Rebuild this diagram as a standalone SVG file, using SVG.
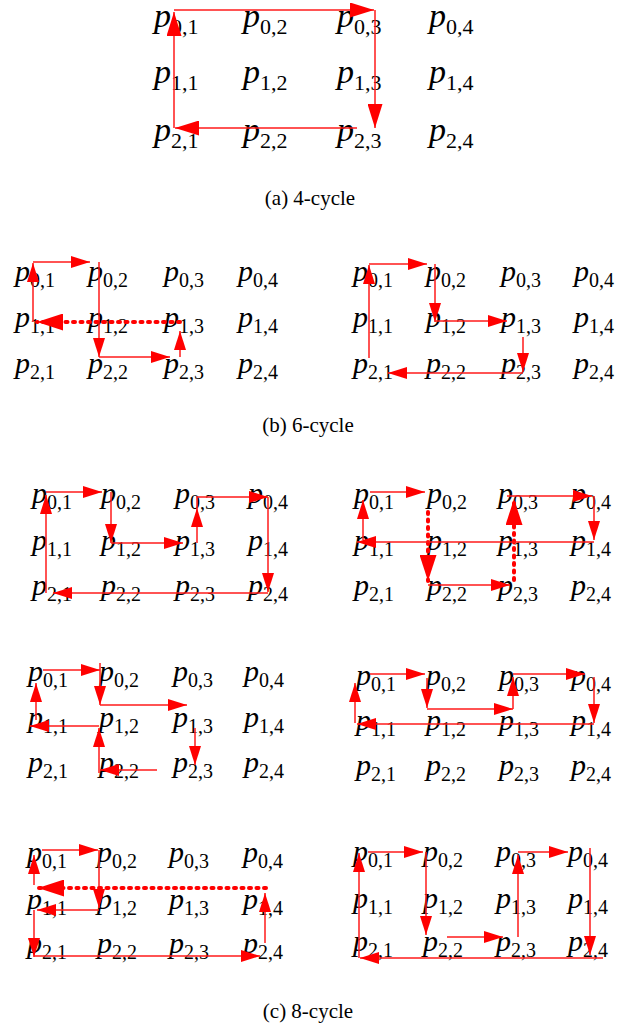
<svg xmlns="http://www.w3.org/2000/svg" width="630" height="1027" viewBox="0 0 630 1027">
<style>
.p{font-family:"Liberation Serif","Times New Roman",serif;font-style:italic;fill:#000}
.pa{font-size:34px}
.pb{font-size:30px}
.s{font-style:normal;font-size:20px}
.sa{font-style:normal;font-size:22px}
.c{stroke:#ff1a1a;stroke-width:1.5;fill:none}
.d{stroke:#ff0000;stroke-width:4;stroke-dasharray:2 5.5;stroke-linecap:round;fill:none}
.cap{font-family:"Liberation Serif","Times New Roman",serif;font-size:21px;fill:#000}
</style>
<defs>
<marker id="mA" markerUnits="userSpaceOnUse" markerWidth="24" markerHeight="15" refX="24" refY="7.5" orient="auto"><path d="M0,0 L24,7.5 L0,15 Z" fill="red"/></marker>
<marker id="mB" markerUnits="userSpaceOnUse" markerWidth="19" markerHeight="12" refX="19" refY="6" orient="auto"><path d="M0,0 L19,6 L0,12 Z" fill="red"/></marker>
<marker id="mC" markerUnits="userSpaceOnUse" markerWidth="26" markerHeight="17" refX="26" refY="8.5" orient="auto"><path d="M0,0 L26,8.5 L0,17 Z" fill="red"/></marker>
</defs>
<rect width="630" height="1027" fill="#fff"/>

<g id="panel-a">
<g id="a-p01"><text class="p pa" x="154" y="27">p<tspan class="sa" dy="7">0,1</tspan></text></g>
<g id="a-p02"><text class="p pa" x="243" y="27">p<tspan class="sa" dy="7">0,2</tspan></text></g>
<g id="a-p03"><text class="p pa" x="337" y="27">p<tspan class="sa" dy="7">0,3</tspan></text></g>
<g id="a-p04"><text class="p pa" x="429" y="27">p<tspan class="sa" dy="7">0,4</tspan></text></g>
<g id="a-p11"><text class="p pa" x="154" y="83">p<tspan class="sa" dy="7">1,1</tspan></text></g>
<g id="a-p12"><text class="p pa" x="243" y="83">p<tspan class="sa" dy="7">1,2</tspan></text></g>
<g id="a-p13"><text class="p pa" x="337" y="83">p<tspan class="sa" dy="7">1,3</tspan></text></g>
<g id="a-p14"><text class="p pa" x="429" y="83">p<tspan class="sa" dy="7">1,4</tspan></text></g>
<g id="a-p21"><text class="p pa" x="154" y="141">p<tspan class="sa" dy="7">2,1</tspan></text></g>
<g id="a-p22"><text class="p pa" x="243" y="141">p<tspan class="sa" dy="7">2,2</tspan></text></g>
<g id="a-p23"><text class="p pa" x="337" y="141">p<tspan class="sa" dy="7">2,3</tspan></text></g>
<g id="a-p24"><text class="p pa" x="429" y="141">p<tspan class="sa" dy="7">2,4</tspan></text></g>
<text class="cap" x="310" y="205" text-anchor="middle">(a) 4-cycle</text>
</g>

<g id="panel-b-left">
<g id="bl-p01"><text class="p pb" x="15" y="281">p<tspan class="s" dy="6">0,1</tspan></text></g>
<g id="bl-p02"><text class="p pb" x="88" y="281">p<tspan class="s" dy="6">0,2</tspan></text></g>
<g id="bl-p03"><text class="p pb" x="164" y="281">p<tspan class="s" dy="6">0,3</tspan></text></g>
<g id="bl-p04"><text class="p pb" x="238" y="281">p<tspan class="s" dy="6">0,4</tspan></text></g>
<g id="bl-p11"><text class="p pb" x="15" y="327">p<tspan class="s" dy="6">1,1</tspan></text></g>
<g id="bl-p12"><text class="p pb" x="88" y="327">p<tspan class="s" dy="6">1,2</tspan></text></g>
<g id="bl-p13"><text class="p pb" x="164" y="327">p<tspan class="s" dy="6">1,3</tspan></text></g>
<g id="bl-p14"><text class="p pb" x="238" y="327">p<tspan class="s" dy="6">1,4</tspan></text></g>
<g id="bl-p21"><text class="p pb" x="15" y="373">p<tspan class="s" dy="6">2,1</tspan></text></g>
<g id="bl-p22"><text class="p pb" x="88" y="373">p<tspan class="s" dy="6">2,2</tspan></text></g>
<g id="bl-p23"><text class="p pb" x="164" y="373">p<tspan class="s" dy="6">2,3</tspan></text></g>
<g id="bl-p24"><text class="p pb" x="238" y="373">p<tspan class="s" dy="6">2,4</tspan></text></g>
</g>

<g id="panel-b-right">
<g id="br-p01"><text class="p pb" x="353" y="281">p<tspan class="s" dy="6">0,1</tspan></text></g>
<g id="br-p02"><text class="p pb" x="426" y="281">p<tspan class="s" dy="6">0,2</tspan></text></g>
<g id="br-p03"><text class="p pb" x="501" y="281">p<tspan class="s" dy="6">0,3</tspan></text></g>
<g id="br-p04"><text class="p pb" x="574" y="281">p<tspan class="s" dy="6">0,4</tspan></text></g>
<g id="br-p11"><text class="p pb" x="353" y="327">p<tspan class="s" dy="6">1,1</tspan></text></g>
<g id="br-p12"><text class="p pb" x="426" y="327">p<tspan class="s" dy="6">1,2</tspan></text></g>
<g id="br-p13"><text class="p pb" x="501" y="327">p<tspan class="s" dy="6">1,3</tspan></text></g>
<g id="br-p14"><text class="p pb" x="574" y="327">p<tspan class="s" dy="6">1,4</tspan></text></g>
<g id="br-p21"><text class="p pb" x="353" y="373">p<tspan class="s" dy="6">2,1</tspan></text></g>
<g id="br-p22"><text class="p pb" x="426" y="373">p<tspan class="s" dy="6">2,2</tspan></text></g>
<g id="br-p23"><text class="p pb" x="501" y="373">p<tspan class="s" dy="6">2,3</tspan></text></g>
<g id="br-p24"><text class="p pb" x="574" y="373">p<tspan class="s" dy="6">2,4</tspan></text></g>
<text class="cap" x="308" y="432" text-anchor="middle">(b) 6-cycle</text>
</g>

<g id="panel-c1-left">
<g id="c1l-p01"><text class="p pb" x="32" y="503">p<tspan class="s" dy="6">0,1</tspan></text></g>
<g id="c1l-p02"><text class="p pb" x="101" y="503">p<tspan class="s" dy="6">0,2</tspan></text></g>
<g id="c1l-p03"><text class="p pb" x="175" y="503">p<tspan class="s" dy="6">0,3</tspan></text></g>
<g id="c1l-p04"><text class="p pb" x="248" y="503">p<tspan class="s" dy="6">0,4</tspan></text></g>
<g id="c1l-p11"><text class="p pb" x="32" y="550">p<tspan class="s" dy="6">1,1</tspan></text></g>
<g id="c1l-p12"><text class="p pb" x="101" y="550">p<tspan class="s" dy="6">1,2</tspan></text></g>
<g id="c1l-p13"><text class="p pb" x="175" y="550">p<tspan class="s" dy="6">1,3</tspan></text></g>
<g id="c1l-p14"><text class="p pb" x="248" y="550">p<tspan class="s" dy="6">1,4</tspan></text></g>
<g id="c1l-p21"><text class="p pb" x="32" y="595">p<tspan class="s" dy="6">2,1</tspan></text></g>
<g id="c1l-p22"><text class="p pb" x="101" y="595">p<tspan class="s" dy="6">2,2</tspan></text></g>
<g id="c1l-p23"><text class="p pb" x="175" y="595">p<tspan class="s" dy="6">2,3</tspan></text></g>
<g id="c1l-p24"><text class="p pb" x="248" y="595">p<tspan class="s" dy="6">2,4</tspan></text></g>
</g>

<g id="panel-c1-right">
<g id="c1r-p01"><text class="p pb" x="354" y="503">p<tspan class="s" dy="6">0,1</tspan></text></g>
<g id="c1r-p02"><text class="p pb" x="427" y="503">p<tspan class="s" dy="6">0,2</tspan></text></g>
<g id="c1r-p03"><text class="p pb" x="498" y="503">p<tspan class="s" dy="6">0,3</tspan></text></g>
<g id="c1r-p04"><text class="p pb" x="571" y="503">p<tspan class="s" dy="6">0,4</tspan></text></g>
<g id="c1r-p11"><text class="p pb" x="354" y="550">p<tspan class="s" dy="6">1,1</tspan></text></g>
<g id="c1r-p12"><text class="p pb" x="427" y="550">p<tspan class="s" dy="6">1,2</tspan></text></g>
<g id="c1r-p13"><text class="p pb" x="498" y="550">p<tspan class="s" dy="6">1,3</tspan></text></g>
<g id="c1r-p14"><text class="p pb" x="571" y="550">p<tspan class="s" dy="6">1,4</tspan></text></g>
<g id="c1r-p21"><text class="p pb" x="354" y="595">p<tspan class="s" dy="6">2,1</tspan></text></g>
<g id="c1r-p22"><text class="p pb" x="427" y="595">p<tspan class="s" dy="6">2,2</tspan></text></g>
<g id="c1r-p23"><text class="p pb" x="498" y="595">p<tspan class="s" dy="6">2,3</tspan></text></g>
<g id="c1r-p24"><text class="p pb" x="571" y="595">p<tspan class="s" dy="6">2,4</tspan></text></g>
</g>

<g id="panel-c2-left">
<g id="c2l-p01"><text class="p pb" x="28" y="681">p<tspan class="s" dy="6">0,1</tspan></text></g>
<g id="c2l-p02"><text class="p pb" x="99" y="681">p<tspan class="s" dy="6">0,2</tspan></text></g>
<g id="c2l-p03"><text class="p pb" x="173" y="681">p<tspan class="s" dy="6">0,3</tspan></text></g>
<g id="c2l-p04"><text class="p pb" x="244" y="681">p<tspan class="s" dy="6">0,4</tspan></text></g>
<g id="c2l-p11"><text class="p pb" x="28" y="727">p<tspan class="s" dy="6">1,1</tspan></text></g>
<g id="c2l-p12"><text class="p pb" x="99" y="727">p<tspan class="s" dy="6">1,2</tspan></text></g>
<g id="c2l-p13"><text class="p pb" x="173" y="727">p<tspan class="s" dy="6">1,3</tspan></text></g>
<g id="c2l-p14"><text class="p pb" x="244" y="727">p<tspan class="s" dy="6">1,4</tspan></text></g>
<g id="c2l-p21"><text class="p pb" x="28" y="772">p<tspan class="s" dy="6">2,1</tspan></text></g>
<g id="c2l-p22"><text class="p pb" x="99" y="772">p<tspan class="s" dy="6">2,2</tspan></text></g>
<g id="c2l-p23"><text class="p pb" x="173" y="772">p<tspan class="s" dy="6">2,3</tspan></text></g>
<g id="c2l-p24"><text class="p pb" x="244" y="772">p<tspan class="s" dy="6">2,4</tspan></text></g>
</g>

<g id="panel-c2-right">
<g id="c2r-p01"><text class="p pb" x="356" y="685">p<tspan class="s" dy="6">0,1</tspan></text></g>
<g id="c2r-p02"><text class="p pb" x="426" y="685">p<tspan class="s" dy="6">0,2</tspan></text></g>
<g id="c2r-p03"><text class="p pb" x="499" y="685">p<tspan class="s" dy="6">0,3</tspan></text></g>
<g id="c2r-p04"><text class="p pb" x="571" y="685">p<tspan class="s" dy="6">0,4</tspan></text></g>
<g id="c2r-p11"><text class="p pb" x="356" y="730">p<tspan class="s" dy="6">1,1</tspan></text></g>
<g id="c2r-p12"><text class="p pb" x="426" y="730">p<tspan class="s" dy="6">1,2</tspan></text></g>
<g id="c2r-p13"><text class="p pb" x="499" y="730">p<tspan class="s" dy="6">1,3</tspan></text></g>
<g id="c2r-p14"><text class="p pb" x="571" y="730">p<tspan class="s" dy="6">1,4</tspan></text></g>
<g id="c2r-p21"><text class="p pb" x="356" y="775">p<tspan class="s" dy="6">2,1</tspan></text></g>
<g id="c2r-p22"><text class="p pb" x="426" y="775">p<tspan class="s" dy="6">2,2</tspan></text></g>
<g id="c2r-p23"><text class="p pb" x="499" y="775">p<tspan class="s" dy="6">2,3</tspan></text></g>
<g id="c2r-p24"><text class="p pb" x="571" y="775">p<tspan class="s" dy="6">2,4</tspan></text></g>
</g>

<g id="panel-c3-left">
<g id="c3l-p01"><text class="p pb" x="27" y="862">p<tspan class="s" dy="6">0,1</tspan></text></g>
<g id="c3l-p02"><text class="p pb" x="97" y="862">p<tspan class="s" dy="6">0,2</tspan></text></g>
<g id="c3l-p03"><text class="p pb" x="169" y="862">p<tspan class="s" dy="6">0,3</tspan></text></g>
<g id="c3l-p04"><text class="p pb" x="243" y="862">p<tspan class="s" dy="6">0,4</tspan></text></g>
<g id="c3l-p11"><text class="p pb" x="27" y="909">p<tspan class="s" dy="6">1,1</tspan></text></g>
<g id="c3l-p12"><text class="p pb" x="97" y="909">p<tspan class="s" dy="6">1,2</tspan></text></g>
<g id="c3l-p13"><text class="p pb" x="169" y="909">p<tspan class="s" dy="6">1,3</tspan></text></g>
<g id="c3l-p14"><text class="p pb" x="243" y="909">p<tspan class="s" dy="6">1,4</tspan></text></g>
<g id="c3l-p21"><text class="p pb" x="27" y="953">p<tspan class="s" dy="6">2,1</tspan></text></g>
<g id="c3l-p22"><text class="p pb" x="97" y="953">p<tspan class="s" dy="6">2,2</tspan></text></g>
<g id="c3l-p23"><text class="p pb" x="169" y="953">p<tspan class="s" dy="6">2,3</tspan></text></g>
<g id="c3l-p24"><text class="p pb" x="243" y="953">p<tspan class="s" dy="6">2,4</tspan></text></g>
</g>

<g id="panel-c3-right">
<g id="c3r-p01"><text class="p pb" x="353" y="861">p<tspan class="s" dy="6">0,1</tspan></text></g>
<g id="c3r-p02"><text class="p pb" x="423" y="861">p<tspan class="s" dy="6">0,2</tspan></text></g>
<g id="c3r-p03"><text class="p pb" x="496" y="861">p<tspan class="s" dy="6">0,3</tspan></text></g>
<g id="c3r-p04"><text class="p pb" x="568" y="861">p<tspan class="s" dy="6">0,4</tspan></text></g>
<g id="c3r-p11"><text class="p pb" x="353" y="908">p<tspan class="s" dy="6">1,1</tspan></text></g>
<g id="c3r-p12"><text class="p pb" x="423" y="908">p<tspan class="s" dy="6">1,2</tspan></text></g>
<g id="c3r-p13"><text class="p pb" x="496" y="908">p<tspan class="s" dy="6">1,3</tspan></text></g>
<g id="c3r-p14"><text class="p pb" x="568" y="908">p<tspan class="s" dy="6">1,4</tspan></text></g>
<g id="c3r-p21"><text class="p pb" x="353" y="951">p<tspan class="s" dy="6">2,1</tspan></text></g>
<g id="c3r-p22"><text class="p pb" x="423" y="951">p<tspan class="s" dy="6">2,2</tspan></text></g>
<g id="c3r-p23"><text class="p pb" x="496" y="951">p<tspan class="s" dy="6">2,3</tspan></text></g>
<g id="c3r-p24"><text class="p pb" x="568" y="951">p<tspan class="s" dy="6">2,4</tspan></text></g>
<text class="cap" x="308" y="1018" text-anchor="middle">(c) 8-cycle</text>
</g>

<g id="connectors">
<path class="c" d="M174 128 L174 12" marker-end="url(#mA)"/>
<path class="c" d="M174 10 L374 10" marker-end="url(#mA)"/>
<path class="c" d="M375 10 L375 128" marker-end="url(#mA)"/>
<path class="c" d="M357 128 L175 128" marker-end="url(#mA)"/>
<path class="c" d="M33 322 L33 263" marker-end="url(#mB)"/>
<path class="c" d="M33 262 L90 262" marker-end="url(#mB)"/>
<path class="c" d="M99 262 L99 357" marker-end="url(#mB)"/>
<path class="c" d="M99 357 L170 357" marker-end="url(#mB)"/>
<path class="c" d="M180 357 L180 331" marker-end="url(#mB)"/>
<path class="d" d="M180 322 L37 322" marker-end="url(#mC)"/>
<path class="c" d="M369 358 L369 265" marker-end="url(#mB)"/>
<path class="c" d="M369 264 L427 264" marker-end="url(#mB)"/>
<path class="c" d="M435 264 L435 322" marker-end="url(#mB)"/>
<path class="c" d="M435 321 L507 321" marker-end="url(#mB)"/>
<path class="c" d="M523 337 L523 372" marker-end="url(#mB)"/>
<path class="c" d="M523 373 L388 373" marker-end="url(#mB)"/>
<path class="c" d="M46 593 L46 495" marker-end="url(#mB)"/>
<path class="c" d="M46 492 L102 492" marker-end="url(#mB)"/>
<path class="c" d="M111 492 L111 543" marker-end="url(#mB)"/>
<path class="c" d="M111 543 L183 543" marker-end="url(#mB)"/>
<path class="c" d="M197 543 L197 508" marker-end="url(#mB)"/>
<path class="c" d="M197 508 L197 497 L268 497" marker-end="url(#mB)"/>
<path class="c" d="M268 497 L268 592" marker-end="url(#mB)"/>
<path class="c" d="M268 593 L53 593" marker-end="url(#mB)"/>
<path class="c" d="M363 540 L363 500" marker-end="url(#mB)"/>
<path class="c" d="M370 492 L425 492" marker-end="url(#mB)"/>
<path class="d" d="M428 512 L428 581" marker-end="url(#mC)"/>
<path class="c" d="M428 585 L510 585" marker-end="url(#mB)"/>
<path class="d" d="M514 580 L514 499" marker-end="url(#mC)"/>
<path class="c" d="M507 496 L592 496" marker-end="url(#mB)"/>
<path class="c" d="M594 496 L594 540" marker-end="url(#mB)"/>
<path class="c" d="M594 542 L357 542" marker-end="url(#mB)"/>
<path class="c" d="M36 720 L36 683" marker-end="url(#mB)"/>
<path class="c" d="M43 670 L100 670" marker-end="url(#mB)"/>
<path class="c" d="M100 663 L100 705" marker-end="url(#mB)"/>
<path class="c" d="M100 705 L187 705" marker-end="url(#mB)"/>
<path class="c" d="M195 728 L195 765" marker-end="url(#mB)"/>
<path class="c" d="M157 770 L100 770" marker-end="url(#mB)"/>
<path class="c" d="M99 773 L99 728" marker-end="url(#mB)"/>
<path class="c" d="M99 726 L30 726" marker-end="url(#mB)"/>
<path class="c" d="M355 723 L355 683" marker-end="url(#mB)"/>
<path class="c" d="M370 674 L425 674" marker-end="url(#mB)"/>
<path class="c" d="M427 678 L427 708" marker-end="url(#mB)"/>
<path class="c" d="M427 709 L513 709" marker-end="url(#mB)"/>
<path class="c" d="M513 709 L513 677" marker-end="url(#mB)"/>
<path class="c" d="M513 674 L585 674" marker-end="url(#mB)"/>
<path class="c" d="M594 677 L594 723" marker-end="url(#mB)"/>
<path class="c" d="M594 724 L357 724" marker-end="url(#mB)"/>
<path class="c" d="M34 885 L34 855" marker-end="url(#mB)"/>
<path class="c" d="M42 850 L98 850" marker-end="url(#mB)"/>
<path class="c" d="M99 850 L99 908" marker-end="url(#mB)"/>
<path class="c" d="M99 910 L37 910" marker-end="url(#mB)"/>
<path class="c" d="M34 910 L34 957" marker-end="url(#mB)"/>
<path class="c" d="M34 956 L260 956" marker-end="url(#mB)"/>
<path class="c" d="M265 943 L265 893" marker-end="url(#mB)"/>
<path class="d" d="M266 888 L38 888" marker-end="url(#mC)"/>
<path class="c" d="M359 958 L359 853" marker-end="url(#mB)"/>
<path class="c" d="M368 852 L423 852" marker-end="url(#mB)"/>
<path class="c" d="M426 852 L426 935" marker-end="url(#mB)"/>
<path class="c" d="M447 937 L503 937" marker-end="url(#mB)"/>
<path class="c" d="M518 937 L518 855" marker-end="url(#mB)"/>
<path class="c" d="M518 852 L568 852" marker-end="url(#mB)"/>
<path class="c" d="M590 848 L590 955" marker-end="url(#mB)"/>
<path class="c" d="M603 958 L360 958" marker-end="url(#mB)"/>
</g>
</svg>
